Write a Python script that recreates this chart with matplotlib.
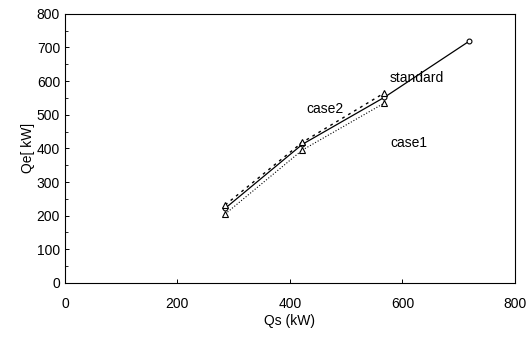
import matplotlib
matplotlib.use('Agg')
import matplotlib.pyplot as plt
from matplotlib.ticker import MultipleLocator

plt.rcParams['font.family'] = ['Liberation Sans', 'DejaVu Sans']

# heat input Qs vs output Qe
qs_std = [285, 422, 568, 718]
qe_std = [222, 412, 552, 718]
qs_c1 = [285, 422, 568]
qe_c1 = [205, 395, 535]
qs_c2 = [285, 422, 568]
qe_c2 = [232, 418, 565]

fig = plt.figure(figsize=(5.32, 3.38), dpi=100)
ax = fig.add_axes([0.122, 0.163, 0.846, 0.796])

ax.plot(qs_std, qe_std, 'k-', lw=0.9, marker='o', ms=3.5, mfc='white', mew=0.8)
ax.plot(qs_c1, qe_c1, color='k', ls=':', lw=0.8, marker='^', ms=4, mfc='white', mew=0.8)
ax.plot(qs_c2, qe_c2, color='k', ls=(0, (2, 3)), lw=1.0, marker='^', ms=4, mfc='white', mew=0.8)

ax.text(578, 597, 'standard', fontsize=10)
ax.text(430, 506, 'case2', fontsize=10)
ax.text(578, 403, 'case1', fontsize=10)

ax.set_xlim(0, 800)
ax.set_ylim(0, 800)
ax.xaxis.set_major_locator(MultipleLocator(200))
ax.yaxis.set_major_locator(MultipleLocator(100))
ax.yaxis.set_minor_locator(MultipleLocator(50))
ax.tick_params(direction='in', labelsize=10, length=3, width=0.7)
ax.tick_params(axis='x', pad=10)
ax.tick_params(which='minor', direction='in', length=2, width=0.6)
ax.set_xlabel('Qs (kW)', fontsize=10, labelpad=2)
ax.set_ylabel('Qe[ kW]', fontsize=10, labelpad=1)
for s in ax.spines.values():
    s.set_linewidth(0.8)

fig.savefig('out.png', dpi=100)
